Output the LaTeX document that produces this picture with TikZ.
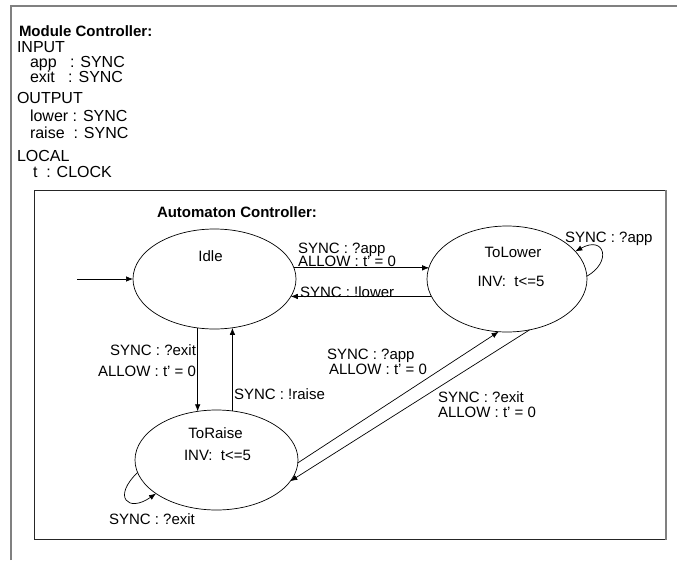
\documentclass[tikz,border=0pt]{standalone}
\usepackage{fontspec}
\setmainfont{Liberation Sans}
\usetikzlibrary{arrows.meta,shapes.geometric}
\begin{document}
\begin{tikzpicture}[x=1pt,y=-1pt,
  every node/.style={inner sep=0pt,outer sep=0pt},
  txt/.style={font=\fontsize{15}{18}\selectfont,anchor=base west},
  txtr/.style={font=\fontsize{15}{18}\selectfont,anchor=base east},
  txtc/.style={font=\fontsize{15}{18}\selectfont,anchor=base},
  decl/.style={font=\fontsize{16}{18}\selectfont,anchor=base west},
  head/.style={font=\fontsize{15}{18}\selectfont\bfseries,anchor=base west},
  state/.style={draw,ellipse,line width=0.7pt},
  trans/.style={draw,line width=0.7pt,-{Latex[length=7pt,width=5.5pt]}},
  frame/.style={draw=black!50,line width=1.8pt},
]
\useasboundingbox (0,0) rectangle (677,560);

% module frame (open at right and bottom)
\draw[frame] (11,560) -- (11,6) -- (677,6);

% module declarations
\node[head] (modtitle) at (19,36.5) {Module Controller:};
\node[decl] (input)  at (17,52)  {INPUT};
\node[decl] (inapp)  at (30,67)  {app\ \ \ : SYNC};
\node[decl] (inexit) at (30,82.3)  {exit\ \ \ : SYNC};
\node[decl] (output) at (17,103) {OUTPUT};
\node[decl] (outlow) at (30,121) {lower : SYNC};
\node[decl] (outrai) at (30,138) {raise\ \ : SYNC};
\node[decl] (local)  at (17,161) {LOCAL};
\node[decl] (loct)   at (33,177) {t\ \ : CLOCK};

% automaton frame
\draw[draw=black!85,line width=1pt] (34,190) rectangle (666,539);
\draw[frame] (666,190) -- (666,540);
\node[head] (autotitle) at (157,217) {Automaton Controller:};

% states
\node[state,minimum width=163pt,minimum height=100pt] (idle) at (214.5,279) {};
\node[state,minimum width=160pt,minimum height=106pt] (tolower) at (507,279) {};
\node[state,minimum width=163pt,minimum height=100pt] (toraise) at (216.5,460) {};

\node[txtc] (idlename) at (210.5,261) {Idle};
\node[txtc] (lowname) at (513,257.5) {ToLower};
\node[txtc] (lowinv)  at (511,286) {INV:\ \ t<=5};
\node[txtc] (rainame) at (215.5,438) {ToRaise};
\node[txtc] (raiinv)  at (217.5,460) {INV:\ \ t<=5};

% initial transition
\coordinate (init) at (77,279);
\draw[trans] (init) -- (idle.west);

% Idle <-> ToLower
\draw[trans] (idle.8.6) -- (idle.8.6 -| tolower.171.2);
\draw[trans] (tolower.193.5) -- (tolower.193.5 -| idle.-13.3);
\node[txt] (l1a) at (298,253) {SYNC : ?app};
\node[txt] (l1b) at (298,266.5) {ALLOW : t’ = 0};
\node[txt] (l2)  at (300,297) {SYNC : !lower};

% Idle <-> ToRaise
\draw[trans] (idle.-109.7) -- (idle.-109.7 |- toraise.111.9);
\draw[trans] (toraise.72.5) -- (toraise.72.5 |- idle.-70.3);
\node[txtr] (l3a) at (196,355) {SYNC : ?exit};
\node[txtr] (l3b) at (196,376) {ALLOW : t’ = 0};
\node[txt]  (l4)  at (234,399) {SYNC : !raise};

% ToRaise <-> ToLower
\draw[trans] (toraise.-2.1) -- (tolower.-99.2);
\draw[trans] (tolower.-66) -- (toraise.-16.7);
\node[txt] (l5a) at (327,359) {SYNC : ?app};
\node[txt] (l5b) at (329,374) {ALLOW : t’ = 0};
\node[txt] (l6a) at (438,402.5) {SYNC : ?exit};
\node[txt] (l6b) at (438,417) {ALLOW : t’ = 0};

% self loops
\draw[trans] (tolower.2.9) .. controls (612,262) and (605,235) .. (tolower.22);
\node[txt] (l7) at (565,242) {SYNC : ?app};
\draw[trans] (toraise.189.6) .. controls (112,497) and (128,513) .. (toraise.209.4);
\node[txt] (l8) at (109,524) {SYNC : ?exit};
\end{tikzpicture}
\end{document}
